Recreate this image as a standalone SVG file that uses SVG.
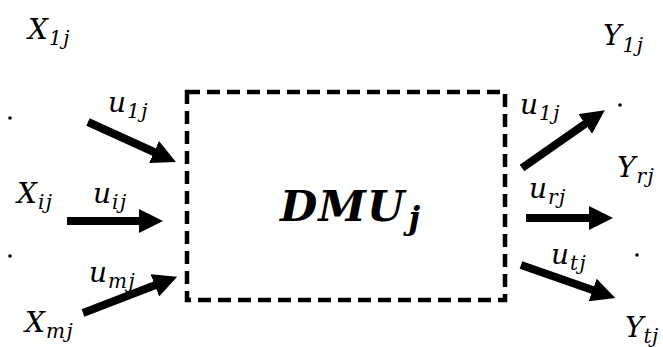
<svg xmlns="http://www.w3.org/2000/svg" width="663" height="347" viewBox="0 0 663 347">
<style>
.m{font-family:"DejaVu Serif","Liberation Serif",serif;font-style:italic;font-size:28px;fill:#000}
.s{font-size:20px;letter-spacing:1.5px}
.big{font-family:"DejaVu Serif","Liberation Serif",serif;font-style:italic;font-weight:bold;font-size:43px;fill:#000;letter-spacing:1px}
.bs{font-size:32px}
.dot{fill:#000}
.arr{stroke:#000;stroke-width:8;fill:none;marker-end:url(#ah)}
</style>
<defs>
<marker id="ah" markerUnits="userSpaceOnUse" markerWidth="24" markerHeight="24" refX="12" refY="12" orient="auto" viewBox="0 0 24 24">
<path d="M0,0 L24,12 L0,24 z" fill="#000"/>
</marker>
</defs>
<rect width="663" height="347" fill="#fff"/>
<g id="dmu">
<rect x="187" y="92" width="318" height="208" fill="none" stroke="#000" stroke-width="4.5" stroke-dasharray="13,7"/>
<text class="big" x="280" y="221">DMU<tspan class="bs" dx="3" dy="8">j</tspan></text>
</g>
<g id="inputs">
<text class="m" x="28" y="39">X<tspan class="s" dx="1" dy="6">1j</tspan></text>
<circle class="dot" cx="10" cy="118" r="1.8"/>
<text class="m" x="17" y="203">X<tspan class="s" dx="1" dy="6">ij</tspan></text>
<circle class="dot" cx="10" cy="256" r="1.8"/>
<text class="m" x="25" y="332">X<tspan class="s" dx="1" dy="6">mj</tspan></text>
</g>
<g id="outputs">
<text class="m" x="603" y="45">Y<tspan class="s" dx="1" dy="7">1j</tspan></text>
<circle class="dot" cx="620" cy="105" r="1.8"/>
<text class="m" x="617" y="177">Y<tspan class="s" dx="1" dy="6">rj</tspan></text>
<circle class="dot" cx="637" cy="255" r="1.8"/>
<text class="m" x="625" y="337">Y<tspan class="s" dy="6" style="letter-spacing:0.5px">tj</tspan></text>
</g>
<g id="connectors">
<line class="arr" x1="88" y1="122" x2="165" y2="157"/>
<line class="arr" x1="67" y1="221" x2="151" y2="221"/>
<line class="arr" x1="83" y1="313" x2="166" y2="281"/>
<line class="arr" x1="522" y1="168" x2="595" y2="117"/>
<line class="arr" x1="526" y1="218" x2="601" y2="218"/>
<line class="arr" x1="521" y1="265" x2="604" y2="294"/>
</g>
<g id="labels">
<text class="m" x="108" y="112">u<tspan class="s" dx="1" dy="6">1j</tspan></text>
<text class="m" x="93" y="203">u<tspan class="s" dx="1" dy="6">ij</tspan></text>
<text class="m" x="89" y="282">u<tspan class="s" dx="1" dy="6">mj</tspan></text>
<text class="m" x="520" y="114">u<tspan class="s" dx="1" dy="6">1j</tspan></text>
<text class="m" x="529" y="198">u<tspan class="s" dx="1" dy="6">rj</tspan></text>
<text class="m" x="551" y="264">u<tspan class="s" dx="1" dy="6">tj</tspan></text>
</g>
</svg>
